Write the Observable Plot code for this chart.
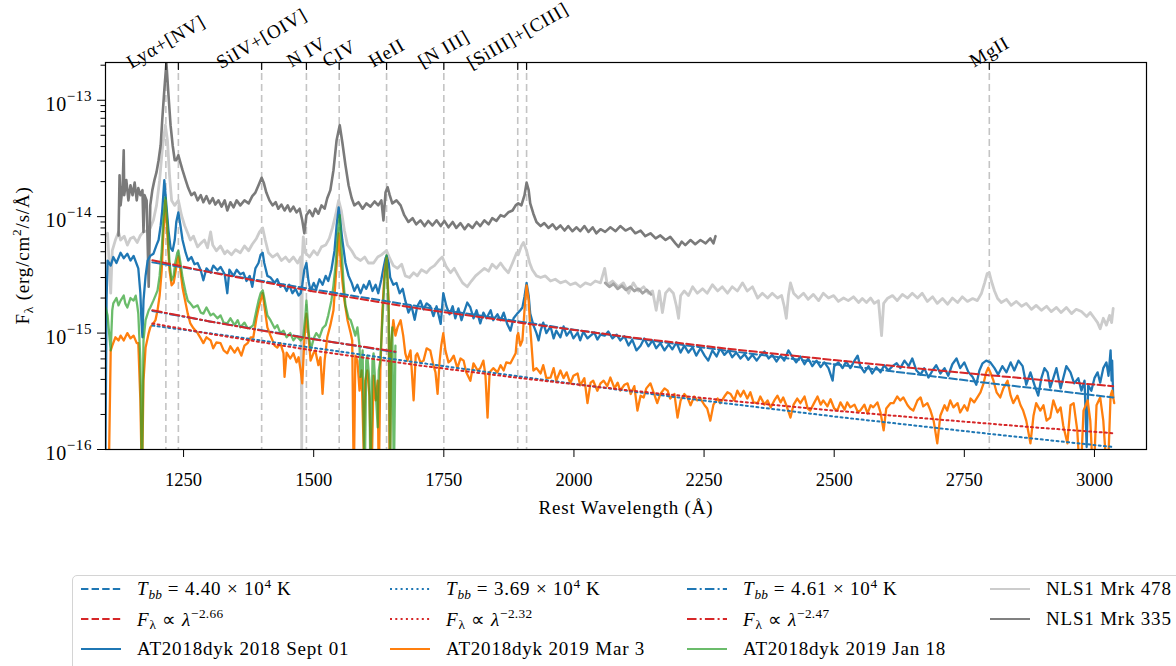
<!DOCTYPE html>
<html><head><meta charset="utf-8">
<script src="https://cdn.jsdelivr.net/npm/d3@7"></script>
<script src="https://cdn.jsdelivr.net/npm/@observablehq/plot@0.6"></script>
<style>
html,body{margin:0;padding:0;background:#fff;}
body{width:1176px;height:666px;overflow:hidden;position:relative;font-family:"Liberation Serif",serif;color:#000;}
#chart{position:absolute;left:0;top:0;}
#chart [aria-label="text"] text{letter-spacing:0.8px;}
#legend{position:absolute;left:72px;top:575px;width:1180px;height:110px;border:1px solid #d4d4d4;border-radius:5px;box-sizing:border-box;background:#fff;}
.item{position:absolute;height:30px;display:flex;align-items:center;font-size:19px;letter-spacing:0.8px;white-space:nowrap;}
.item svg{flex:none;}
.item span{margin-left:16px;}
sub,sup{font-size:0.7em;line-height:0;position:relative;vertical-align:baseline;letter-spacing:0.3px;}
sup{top:-0.55em;}
sub{top:0.3em;}
</style>
</head><body>
<div id="chart"></div>
<div id="legend"></div>
<script>
// Flux values below are in units of 1e-16 erg/cm^2/s/Å; wavelengths in Å (rest frame)
const FLUX_UNIT = 1e-16;

const lineWaves  = [1216, 1240, 1400, 1486, 1549, 1640, 1750, 1892, 1909, 2798];
const lineLabels = ["Lyα+[NV]", "", "SiIV+[OIV]", "N IV", "CIV", "HeII", "[N III]", "[SiIII]+[CIII]", "", "MgII"];
const xTicks = [1250, 1500, 1750, 2000, 2250, 2500, 2750, 3000];
const yTickExponents = [-16, -15, -14, -13];
const yMinorMantissas = [2, 3, 4, 5, 6, 7, 8, 9];

const mrk478 = [[1100,69],[1104,72],[1110,22],[1113,51],[1119,63],[1125,74],[1129,63],[1136,68],[1142,57],[1148,65],[1154,67],[1161,60],[1167,69],[1173,74],[1181,76],[1186,80],[1192,93],[1198,125],[1204,206],[1209,372],[1215,611],[1219,454],[1223,227],[1227,138],[1233,125],[1240,138],[1246,103],[1252,84],[1258,72],[1263,63],[1269,68],[1277,55],[1283,59],[1290,63],[1296,54],[1302,74],[1306,57],[1313,51],[1321,56],[1329,48],[1334,51],[1342,47],[1350,52],[1359,49],[1367,56],[1375,51],[1382,58],[1390,65],[1396,74],[1402,80],[1407,63],[1413,49],[1421,45],[1430,48],[1438,42],[1446,45],[1453,41],[1461,45],[1469,40],[1475,45],[1477,1],[1478,44],[1480,67],[1484,49],[1492,45],[1500,51],[1507,47],[1515,55],[1523,57],[1530,65],[1536,80],[1542,103],[1548,138],[1553,113],[1559,76],[1565,57],[1573,51],[1580,45],[1590,42],[1598,45],[1605,40],[1615,40],[1623,45],[1630,47],[1640,51],[1646,44],[1653,38],[1661,36],[1669,39],[1676,31],[1684,30],[1692,33],[1699,31],[1707,35],[1717,33],[1724,36],[1732,38],[1740,42],[1747,45],[1755,37],[1763,33],[1770,36],[1778,31],[1786,27],[1795,25],[1803,28],[1811,31],[1818,33],[1828,36],[1836,34],[1843,39],[1851,36],[1859,40],[1866,36],[1874,33],[1882,40],[1890,49],[1893,47],[1899,56],[1903,60],[1909,51],[1915,40],[1920,35],[1928,31],[1936,30],[1945,31],[1955,28],[1964,29],[1974,27],[1984,28],[1993,26],[2003,27],[2012,25],[2022,27],[2032,26],[2041,28],[2051,27],[2059,36],[2064,26],[2074,28],[2085,25],[2095,27],[2105,22],[2114,27],[2124,23],[2134,25],[2143,22],[2151,23],[2158,15.7],[2164,23],[2170,15],[2176,22],[2183,24],[2191,22],[2197,17],[2201,13.4],[2205,21],[2212,23],[2220,21],[2228,25],[2237,22],[2247,24],[2256,22],[2266,26],[2276,23],[2285,25],[2295,22],[2304,25],[2314,23],[2324,27],[2333,23],[2343,25],[2353,20],[2362,22],[2372,20],[2381,22],[2391,20],[2399,21],[2404,17],[2408,13.4],[2412,21],[2416,27],[2422,22],[2431,20],[2441,22],[2450,19.5],[2460,21.5],[2470,19],[2479,22],[2489,20],[2499,21],[2508,18.7],[2518,20],[2527,19],[2537,20.5],[2547,18.3],[2554,19.8],[2562,18.3],[2570,20],[2577,18],[2585,19],[2591,9.5],[2595,18],[2602,19.8],[2612,21],[2621,19],[2631,21.5],[2641,20],[2650,22],[2660,20],[2669,22],[2679,18.7],[2689,20.5],[2698,18],[2708,19.8],[2718,17.7],[2727,20],[2737,18.3],[2746,20.5],[2756,18.7],[2766,19.8],[2775,19],[2783,22],[2789,27],[2794,32.5],[2798,33],[2802,28],[2808,23],[2814,19.8],[2821,18.3],[2831,19.5],[2840,17.3],[2850,18.7],[2860,17],[2869,18],[2879,16],[2888,17.3],[2898,15.7],[2908,17],[2917,15.3],[2927,16.6],[2936,15],[2946,16.6],[2956,14.7],[2965,16],[2975,15.3],[2985,13.9],[2992,15],[3000,13.4],[3006,12.3],[3011,10.9],[3017,13.4],[3023,11.7],[3029,14.2],[3033,12.3],[3036,16.3]];

const mrk478Overlap = [[2060,27],[2068,25],[2076,26.5],[2084,24],[2092,25.5],[2100,23.5],[2108,25],[2116,23],[2124,24],[2132,22],[2140,23.5],[2148,21.5]];

const mrk335 = [[1125,69],[1127,227],[1129,125],[1133,186],[1135,372],[1136,153],[1140,206],[1144,138],[1148,186],[1152,153],[1156,196],[1160,138],[1163,176],[1167,153],[1171,169],[1173,74],[1175,153],[1179,138],[1183,25],[1186,125],[1190,169],[1194,206],[1198,241],[1202,305],[1206,411],[1209,675],[1213,1220],[1217,2090],[1221,1110],[1225,611],[1229,411],[1233,305],[1236,305],[1240,337],[1244,290],[1248,251],[1254,206],[1259,176],[1265,153],[1271,161],[1277,138],[1283,153],[1288,133],[1294,150],[1300,130],[1306,144],[1311,127],[1317,138],[1323,122],[1329,138],[1334,113],[1340,133],[1346,120],[1352,138],[1359,125],[1367,138],[1375,130],[1382,150],[1388,161],[1394,186],[1400,216],[1404,196],[1409,161],[1415,138],[1421,125],[1427,133],[1432,117],[1438,127],[1444,113],[1450,125],[1455,111],[1461,122],[1467,109],[1473,117],[1478,93],[1482,72],[1486,103],[1492,113],[1498,101],[1503,117],[1509,106],[1515,125],[1521,117],[1526,144],[1532,169],[1538,251],[1544,454],[1550,611],[1555,436],[1561,277],[1567,186],[1573,144],[1578,125],[1586,133],[1594,117],[1601,130],[1609,122],[1617,135],[1624,125],[1630,138],[1634,93],[1638,161],[1642,179],[1646,153],[1651,130],[1659,138],[1667,125],[1674,103],[1682,90],[1690,97],[1697,86],[1705,93],[1713,83],[1720,92],[1728,84],[1736,93],[1744,83],[1751,92],[1759,81],[1767,90],[1774,80],[1782,88],[1790,78],[1797,86],[1805,80],[1813,90],[1820,83],[1828,93],[1836,86],[1843,97],[1851,92],[1859,103],[1866,100],[1874,109],[1882,113],[1888,125],[1893,130],[1899,125],[1905,153],[1909,196],[1913,169],[1916,130],[1922,106],[1928,90],[1936,83],[1943,88],[1951,80],[1959,86],[1966,78],[1974,84],[1982,76],[1989,83],[1997,75],[2005,81],[2012,75],[2020,83],[2028,74],[2036,81],[2043,72],[2051,78],[2060,74],[2070,81],[2080,75],[2089,83],[2099,76],[2109,80],[2118,72],[2128,76],[2137,68],[2147,72],[2157,65],[2166,69],[2176,63],[2185,67],[2195,59],[2201,55],[2207,61],[2214,57],[2224,63],[2233,58],[2243,63],[2253,59],[2262,65],[2268,59],[2272,68]];

const sept01 = [[1100,1],[1102,19],[1104,42],[1110,38],[1115,45],[1121,40],[1129,49],[1135,44],[1142,48],[1148,42],[1154,46],[1160,39],[1163,36],[1167,22],[1169,12.9],[1171,9.2],[1173,19],[1177,31],[1181,42],[1186,46],[1192,48],[1198,57],[1202,63],[1206,84],[1209,113],[1213,206],[1217,125],[1221,76],[1225,54],[1229,51],[1233,63],[1236,90],[1240,109],[1244,84],[1248,63],[1254,49],[1259,42],[1265,45],[1271,39],[1277,40],[1283,34.6],[1288,28.4],[1294,36],[1302,33],[1307,38],[1315,34.6],[1321,37],[1329,32],[1334,22],[1338,35],[1346,31],[1352,35],[1359,32],[1365,33],[1371,28],[1377,31],[1382,25],[1388,36],[1394,40],[1398,47],[1402,49],[1405,40],[1411,31],[1417,30],[1425,27],[1430,29],[1436,25],[1442,26],[1448,23],[1453,26],[1459,22],[1465,24],[1471,21],[1475,22],[1478,26],[1482,35],[1486,40],[1490,28],[1494,23],[1500,27],[1505,24],[1511,29],[1517,26],[1523,31],[1528,28],[1534,35],[1540,51],[1544,84],[1548,120],[1551,93],[1555,63],[1561,40],[1567,31],[1573,27],[1578,23],[1584,26],[1590,22],[1596,26],[1601,24],[1607,28],[1613,23],[1619,26],[1624,22],[1630,29],[1634,36],[1638,44],[1640,46],[1644,40],[1647,30],[1653,26],[1659,27],[1665,22],[1671,24],[1676,19],[1682,15],[1688,17],[1694,13],[1699,17],[1705,19],[1711,16],[1717,18],[1724,17],[1730,14],[1736,17],[1744,12],[1749,22],[1755,17],[1761,14.5],[1767,17],[1772,13.4],[1778,16.3],[1784,12.9],[1790,15.7],[1795,18.3],[1801,16.6],[1807,13.4],[1813,15.7],[1820,12.1],[1826,15],[1832,13.4],[1840,15.7],[1845,12.9],[1853,14.5],[1859,12.9],[1865,15],[1872,11.9],[1878,10.5],[1884,13.4],[1891,14.7],[1897,15.7],[1901,16.6],[1905,20.6],[1909,27],[1913,21],[1916,14.7],[1922,11.7],[1928,10],[1932,8.65],[1936,10.5],[1941,12.3],[1947,10],[1955,11.4],[1961,9],[1966,10.5],[1974,9.2],[1980,11.4],[1986,9.5],[1993,10.5],[1999,9],[2007,10.1],[2012,8.65],[2018,10.3],[2026,9],[2032,9.5],[2039,10.1],[2045,8.8],[2051,9.7],[2059,9.5],[2066,10.3],[2074,9],[2082,9.7],[2089,8.65],[2097,9.4],[2105,7.83],[2112,8.8],[2120,7.1],[2128,7.8],[2135,9],[2143,7.7],[2151,8.65],[2158,7.4],[2166,8.2],[2174,7.1],[2182,8],[2189,7.25],[2197,8.3],[2205,6.8],[2212,7.8],[2220,6.8],[2228,7.55],[2235,6.4],[2243,7.4],[2251,6.4],[2258,5.8],[2266,7.1],[2274,6.3],[2281,7.4],[2289,6.5],[2297,7.1],[2304,6.2],[2312,6.8],[2320,6.05],[2328,6.6],[2335,5.9],[2343,6.5],[2351,5.8],[2358,6.4],[2366,6.95],[2374,6.05],[2381,6.5],[2389,5.7],[2397,6.4],[2404,5.8],[2412,7.1],[2420,6.2],[2427,5.6],[2435,6.3],[2443,5.4],[2450,6.05],[2458,5.2],[2466,5.8],[2474,5.1],[2481,5.6],[2489,5.0],[2497,3.9],[2500,5.2],[2508,5.6],[2516,5.0],[2523,5.7],[2531,5.0],[2539,5.8],[2545,6.4],[2550,5.2],[2558,4.6],[2566,5.2],[2573,4.5],[2581,5.1],[2589,4.6],[2596,5.3],[2604,4.77],[2612,5.2],[2620,5.5],[2627,5.0],[2635,5.8],[2643,5.2],[2650,6.05],[2658,4.77],[2666,4.4],[2673,5.0],[2681,4.15],[2689,4.77],[2696,5.3],[2704,4.5],[2712,5.0],[2719,4.3],[2727,5.4],[2735,6.05],[2742,5.0],[2750,5.6],[2758,4.6],[2766,4.2],[2773,3.6],[2779,4.77],[2785,5.5],[2792,5.8],[2800,5.6],[2808,5.0],[2815,4.4],[2823,5.2],[2831,4.6],[2839,5.6],[2846,4.77],[2854,5.8],[2862,5.2],[2869,3.6],[2877,4.6],[2885,3.55],[2892,2.9],[2898,4.1],[2904,5.0],[2910,4.6],[2915,3.4],[2921,4.1],[2927,5.0],[2935,3.35],[2940,4.1],[2946,5.2],[2954,4.6],[2961,3.7],[2969,4.1],[2975,3.2],[2981,3.9],[2985,1.05],[2988,3.55],[2994,3.2],[3000,4.1],[3006,4.6],[3011,3.75],[3017,5.0],[3023,5.6],[3027,4.3],[3031,7.1],[3033,3.9],[3034,5.8],[3036,2.8]];

const mar03 = [[1100,0.5],[1106,0.5],[1110,7.1],[1113,7.8],[1119,9.2],[1125,8.65],[1129,9.5],[1135,8.65],[1142,10],[1148,9],[1154,9.5],[1160,8.2],[1163,8.2],[1167,2.64],[1170,0.5],[1173,3.9],[1177,7.5],[1183,10],[1186,11.2],[1192,12.1],[1196,12.9],[1200,15.7],[1204,21],[1208,34.6],[1211,69],[1215,138],[1219,69],[1223,34.6],[1227,25.7],[1231,27],[1234,32.5],[1238,42],[1240,45.5],[1244,34.6],[1248,24.6],[1254,18],[1258,14.7],[1263,12.1],[1269,11],[1277,10],[1283,9],[1288,8.2],[1294,9.2],[1302,8.65],[1307,7.4],[1313,8.3],[1321,8.2],[1327,7.1],[1334,6.7],[1340,7.7],[1348,6.8],[1354,7.5],[1361,6.4],[1367,7.8],[1373,8.2],[1379,9.2],[1384,9.2],[1390,13.4],[1394,16.3],[1398,19],[1402,22],[1405,17.3],[1411,11.2],[1417,9.5],[1425,7.8],[1430,7.5],[1436,8.2],[1442,6.7],[1444,4.2],[1448,6.8],[1455,6.05],[1461,6.7],[1467,5.6],[1471,6.2],[1475,4.77],[1478,3.7],[1482,8.65],[1486,14.7],[1490,9.5],[1494,5.8],[1500,6.8],[1503,7.1],[1509,5.3],[1513,6.2],[1517,3.0],[1521,5.8],[1526,9.2],[1532,11.7],[1538,15.7],[1542,28.4],[1546,51.4],[1548,71.8],[1551,46.6],[1555,28.4],[1559,19],[1565,12.9],[1571,10],[1574,8.65],[1577,0.5],[1580,6.4],[1584,5.8],[1588,3.2],[1592,4.77],[1596,1],[1599,3.9],[1603,4.77],[1607,2.9],[1611,0.5],[1615,4.3],[1619,2.64],[1623,3.9],[1625,0.5],[1628,4.77],[1632,15.7],[1636,33],[1640,44],[1644,19],[1646,0.5],[1649,8.2],[1653,12.9],[1657,9.5],[1661,11.2],[1667,12.9],[1672,9.5],[1676,6.7],[1680,5.8],[1686,7.1],[1692,2.64],[1696,6.4],[1699,6.7],[1705,5.6],[1711,5.8],[1717,7.4],[1724,7.1],[1730,5.3],[1734,4.6],[1738,3.0],[1742,5.8],[1745,7.8],[1749,10],[1753,7.1],[1759,5.6],[1763,5.8],[1769,6.4],[1776,5.0],[1782,6.05],[1788,5.8],[1793,4.6],[1801,3.9],[1807,5.5],[1815,4.77],[1820,5.0],[1826,5.8],[1830,4.3],[1834,1.88],[1838,4.6],[1845,5.0],[1853,4.6],[1859,5.3],[1865,4.77],[1870,5.6],[1878,5.5],[1884,6.2],[1888,6.7],[1891,9.5],[1893,10],[1897,7.8],[1901,8.65],[1905,15.7],[1909,25.7],[1913,19],[1916,11.2],[1920,6.4],[1922,4.77],[1928,5.0],[1936,4.5],[1941,5.3],[1947,4.1],[1955,4.15],[1961,5.0],[1966,3.9],[1974,4.77],[1980,4.1],[1986,4.6],[1993,3.7],[1999,4.3],[2007,4.5],[2012,3.55],[2020,4.1],[2026,2.5],[2032,3.75],[2037,3.9],[2045,3.2],[2051,3.7],[2057,3.9],[2064,3.5],[2070,4.15],[2078,3.35],[2084,3.75],[2089,3.2],[2097,3.6],[2103,3.7],[2109,3.0],[2116,3.5],[2122,2.16],[2128,2.9],[2134,2.8],[2139,3.35],[2147,3.7],[2153,3.1],[2160,2.5],[2166,3.0],[2174,3.35],[2180,3.2],[2185,2.74],[2193,3.0],[2199,1.88],[2205,2.64],[2212,3.0],[2218,2.8],[2224,2.4],[2231,2.85],[2237,2.64],[2243,2.74],[2251,2.4],[2256,2.25],[2262,1.77],[2268,2.43],[2276,2.74],[2281,2.5],[2289,2.85],[2295,3.1],[2301,3.0],[2308,2.64],[2314,3.2],[2320,2.85],[2326,3.2],[2333,2.74],[2339,3.1],[2345,2.54],[2353,2.5],[2358,2.85],[2366,2.43],[2372,2.64],[2378,2.3],[2385,2.64],[2391,2.9],[2397,2.54],[2402,2.8],[2408,2.4],[2416,1.88],[2422,2.43],[2429,2.74],[2435,2.5],[2443,2.85],[2449,2.25],[2454,2.16],[2462,2.54],[2468,2.85],[2474,2.43],[2479,2.64],[2487,2.35],[2493,2.7],[2500,2.25],[2506,2.16],[2512,2.54],[2520,2.2],[2525,2.54],[2531,2.3],[2539,2.43],[2545,2.12],[2550,2.16],[2558,2.43],[2564,2.04],[2570,2.4],[2575,2.3],[2583,2.54],[2589,2.08],[2595,1.46],[2600,2.25],[2608,2.5],[2614,2.5],[2621,2.85],[2627,2.64],[2633,2.8],[2641,2.4],[2646,2.25],[2652,2.16],[2660,2.64],[2666,2.8],[2671,2.35],[2679,2.5],[2685,2.16],[2691,1.77],[2698,1.13],[2704,1.96],[2712,2.4],[2717,2.16],[2723,2.64],[2729,2.3],[2737,2.5],[2742,2.08],[2750,2.4],[2756,2.16],[2762,2.74],[2769,2.54],[2775,2.8],[2781,3.1],[2787,3.7],[2792,4.6],[2796,5.05],[2800,4.6],[2806,3.9],[2812,3.1],[2819,2.8],[2825,3.35],[2833,3.9],[2839,2.9],[2844,2.5],[2852,2.9],[2858,2.4],[2863,2.16],[2869,1.77],[2877,1.13],[2883,1.96],[2888,2.5],[2896,2.16],[2902,2.4],[2908,1.77],[2915,1.88],[2921,2.64],[2929,2.08],[2935,2.3],[2940,1.61],[2948,1.13],[2954,2.4],[2960,2.5],[2967,1.46],[2973,0.5],[2979,2.16],[2987,2.64],[2992,1.77],[2998,0.5],[3004,2.4],[3011,2.8],[3017,1.77],[3025,0.5],[3031,2.9],[3034,3.2],[3038,2.5]];

const jan18 = [[1100,16.6],[1104,14.2],[1106,11.2],[1110,7.1],[1113,15.7],[1115,18],[1121,20],[1125,17.3],[1129,19],[1135,21],[1138,18],[1142,16.6],[1148,20],[1154,19],[1158,21],[1161,17.3],[1163,14.7],[1167,5.8],[1170,0.5],[1173,8.65],[1177,12.9],[1183,15.7],[1186,16.6],[1192,19],[1196,21],[1200,23.3],[1204,31],[1208,51],[1211,93],[1215,146],[1219,84],[1223,40],[1227,28.4],[1231,31],[1234,40],[1238,49],[1240,51],[1244,40],[1248,30],[1254,22.3],[1258,19],[1263,18],[1269,16.6],[1277,17.3],[1283,15],[1288,14.7],[1294,16.6],[1302,14.2],[1307,14.7],[1315,13.4],[1321,14.2],[1327,12.3],[1334,12.1],[1340,13.4],[1348,11.7],[1354,12.9],[1359,11.2],[1367,12.3],[1373,11],[1379,11.2],[1384,11.7],[1390,15.7],[1394,19],[1398,22],[1402,23.3],[1405,20],[1411,14.2],[1417,12.9],[1425,11],[1430,11.7],[1436,10],[1442,10.5],[1448,9.2],[1455,10],[1461,8.65],[1467,9.4],[1475,8.65],[1480,9.2],[1484,14.2],[1486,19],[1490,10.5],[1494,7.1],[1500,9],[1505,10],[1511,9.2],[1517,11],[1523,11.7],[1528,14.2],[1534,19],[1538,25.7],[1542,38],[1546,69],[1550,103],[1553,57],[1557,28.4],[1561,17.3],[1567,13.4],[1571,12.9],[1574,11.7],[1580,9.5],[1584,11.2],[1588,7.8],[1590,4.2],[1594,7.1],[1596,1.55],[1598,0.5],[1601,5.8],[1603,6.4],[1607,3.9],[1609,0.5],[1613,5.8],[1615,6.7],[1619,3.2],[1623,1.55],[1625,4.77],[1628,5.8],[1632,12.9],[1636,28.4],[1640,46.6],[1644,14.7],[1647,0.5],[1649,8.65],[1651,11.2],[1654,0.5],[1657,7.8]];

// Fits
const bbSept01 = [[1190,40.5],[1300,33.5],[1500,23.7],[1700,17.0],[2000,10.7],[2200,8.0],[2500,5.4],[2700,4.2],[2800,3.7],[2900,3.3],[3036,2.8]];
const plSept01 = [[1190,42.2],[1300,33.4],[1500,22.8],[1700,16.3],[1900,12.2],[2100,9.3],[2300,7.3],[2500,5.86],[2700,4.77],[2900,3.95],[3036,3.5]];
const bbMar03  = [[1190,11.6],[1300,9.96],[1500,7.46],[1700,5.58],[2000,3.66],[2200,2.8],[2500,1.92],[2800,1.36],[3036,1.05]];
const plMar03  = [[1190,12.1],[1300,9.86],[1500,7.07],[1700,5.29],[1900,4.09],[2100,3.24],[2300,2.62],[2500,2.16],[2700,1.81],[2900,1.53],[3036,1.38]];
const bbJan18  = [[1190,15.5],[1300,12.6],[1400,10.6],[1500,8.9],[1657,6.85]];
const plJan18  = [[1190,15.7],[1300,12.6],[1400,10.5],[1500,8.86],[1657,6.93]];

const C = {blue:"#1f77b4", red:"#d62728", orange:"#ff7f0e", green:"#2ca02c", light:"#cccccc", dark:"#7a7a7a"};
const DASH = "7.4,3.2", DOT = "2,3.3", DASHDOT = "9.5,3.2,2,3.2";

const rows = arr => arr.map(([w, f]) => ({w, f: f * FLUX_UNIT}));

const W = 1176, H = 530, mL = 105, mR = 30, mT = 62, mB = 81;
const plotH = H - mT - mB;
const FONT = '"Liberation Serif", serif';

const ctx = document.createElement("canvas").getContext("2d");
ctx.font = '19px "Liberation Serif"';
const topLabelMarks = lineWaves.map((w, i) => {
  const t = lineLabels[i];
  if (!t) return null;
  const tw = ctx.measureText(t).width + 0.8 * t.length;
  const centerY = 65 - (0.45 * tw + 8) / 2;
  return Plot.text([{w, t}], {x: "w", text: "t", frameAnchor: "top", dy: centerY - mT, rotate: -30,
    textAnchor: "middle", lineAnchor: "middle", fontSize: 19, fill: "black"});
}).filter(Boolean);

const majors = yTickExponents.map(e => Math.pow(10, e));
const minors = [];
yTickExponents.forEach(e => yMinorMantissas.forEach(m => { const v = m * Math.pow(10, e); if (v <= 2.11e-13) minors.push(v); }));

const lineOpts = (stroke, extra = {}) => ({x: "w", y: "f", stroke, strokeWidth: 2.3, clip: true, ...extra});

const chart = Plot.plot({
  width: W, height: H, marginLeft: mL, marginRight: mR, marginTop: mT, marginBottom: mB,
  style: {fontFamily: FONT, fontSize: "19px", background: "white", color: "black", overflow: "visible"},
  x: {type: "linear", domain: [1100, 3100]},
  y: {type: "log", domain: [1e-16, 2.11e-13]},
  marks: [
    Plot.ruleX(lineWaves, {x: d => d, stroke: "#c4c4c4", strokeWidth: 1.6, strokeDasharray: "7,4"}),
    Plot.line(rows(mrk478), lineOpts(C.light, {strokeWidth: 2.8})),
    Plot.line(rows(mrk478Overlap), lineOpts("#a4a4a4", {strokeWidth: 2.8})),
    Plot.line(rows(mrk335), lineOpts(C.dark, {strokeWidth: 2.6})),
    Plot.line(rows(sept01), lineOpts(C.blue)),
    Plot.line(rows(mar03), lineOpts(C.orange)),
    Plot.line(rows(jan18), lineOpts(C.green, {strokeOpacity: 0.7})),
    Plot.line(rows(bbSept01), lineOpts(C.blue, {strokeWidth: 2, strokeDasharray: DASH})),
    Plot.line(rows(plSept01), lineOpts(C.red, {strokeWidth: 2, strokeDasharray: DASH})),
    Plot.line(rows(bbMar03), lineOpts(C.blue, {strokeWidth: 2, strokeDasharray: DOT})),
    Plot.line(rows(plMar03), lineOpts(C.red, {strokeWidth: 2, strokeDasharray: DOT})),
    Plot.line(rows(bbJan18), lineOpts(C.blue, {strokeWidth: 2, strokeDasharray: DASHDOT})),
    Plot.line(rows(plJan18), lineOpts(C.red, {strokeWidth: 2, strokeDasharray: DASHDOT})),
    Plot.frame({stroke: "black", strokeWidth: 1.2}),
    Plot.axisX({anchor: "bottom", ticks: xTicks, tickSize: 8, tickPadding: 15, fontSize: 18.5, tickFormat: d => String(d), label: null}),
    Plot.axisY({anchor: "left", ticks: majors, tickSize: 8, tickFormat: () => "", label: null}),
    Plot.axisY({anchor: "left", ticks: minors, tickSize: 4.5, tickFormat: () => "", label: null}),
    Plot.tickX(lineWaves, {x: d => d, stroke: "black", strokeWidth: 1.1, insetBottom: plotH - 8}),
    ...topLabelMarks,
    Plot.text(["Rest Wavelength (Å)"], {frameAnchor: "bottom", dy: 58, lineAnchor: "middle", fontSize: 19, fill: "black"})
  ]
});
document.getElementById("chart").appendChild(chart);

// y tick labels with real superscripts, positioned via the plot's own y scale
const ys = chart.scale("y");
const svg = d3.select(chart);
yTickExponents.forEach(e => {
  const yy = ys.apply(Math.pow(10, e));
  const t = svg.append("text").attr("x", mL - 13).attr("y", yy + 11).attr("text-anchor", "end")
    .attr("font-family", FONT).attr("font-size", 20).attr("fill", "black").style("letter-spacing", "0.6px");
  t.append("tspan").text("10");
  t.append("tspan").attr("dy", -10).attr("font-size", 15).text("−" + Math.abs(e));
});
// y axis label
const yl = svg.append("text").attr("transform", `translate(29,${mT + plotH / 2}) rotate(-90)`)
  .attr("text-anchor", "middle").attr("font-family", FONT).attr("font-size", 19).attr("fill", "black")
  .style("letter-spacing", "0.8px");
yl.append("tspan").text("F");
yl.append("tspan").attr("dy", 4).attr("font-size", 13.5).text("λ");
yl.append("tspan").attr("dy", -4).text(" (erg/cm");
yl.append("tspan").attr("dy", -8).attr("font-size", 13.5).text("2");
yl.append("tspan").attr("dy", 8).text("/s/Å)");

// legend
const legendItems = [
  {col: 0, row: 0, color: C.blue, dash: DASH, html: '<i>T</i><sub><i>bb</i></sub> = 4.40 × 10<sup>4</sup> K'},
  {col: 0, row: 1, color: C.red, dash: DASH, html: '<i>F</i><sub>λ</sub> ∝ <i>λ</i><sup>−2.66</sup>'},
  {col: 0, row: 2, color: C.blue, dash: null, html: 'AT2018dyk 2018 Sept 01'},
  {col: 1, row: 0, color: C.blue, dash: DOT, html: '<i>T</i><sub><i>bb</i></sub> = 3.69 × 10<sup>4</sup> K'},
  {col: 1, row: 1, color: C.red, dash: DOT, html: '<i>F</i><sub>λ</sub> ∝ <i>λ</i><sup>−2.32</sup>'},
  {col: 1, row: 2, color: C.orange, dash: null, html: 'AT2018dyk 2019 Mar 3'},
  {col: 2, row: 0, color: C.blue, dash: DASHDOT, html: '<i>T</i><sub><i>bb</i></sub> = 4.61 × 10<sup>4</sup> K'},
  {col: 2, row: 1, color: C.red, dash: DASHDOT, html: '<i>F</i><sub>λ</sub> ∝ <i>λ</i><sup>−2.47</sup>'},
  {col: 2, row: 2, color: C.green, dash: null, opacity: 0.7, html: 'AT2018dyk 2019 Jan 18'},
  {col: 3, row: 0, color: C.light, dash: null, html: 'NLS1 Mrk 478'},
  {col: 3, row: 1, color: "#808080", dash: null, html: 'NLS1 Mrk 335'}
];
const colX = [81, 390, 687, 990];
const rowY = [589, 619, 649];
const leg = document.getElementById("legend");
legendItems.forEach(it => {
  const d = document.createElement("div");
  d.className = "item";
  d.style.left = (colX[it.col] - 73) + "px";
  d.style.top = (rowY[it.row] - 576 - 15) + "px";
  d.innerHTML = `<svg width="40" height="6"><line x1="0" y1="3" x2="40" y2="3" stroke="${it.color}" stroke-width="2"${it.dash ? ` stroke-dasharray="${it.dash}"` : ""}${it.opacity ? ` stroke-opacity="${it.opacity}"` : ""}/></svg><span>${it.html}</span>`;
  leg.appendChild(d);
});
</script>
</body></html>
